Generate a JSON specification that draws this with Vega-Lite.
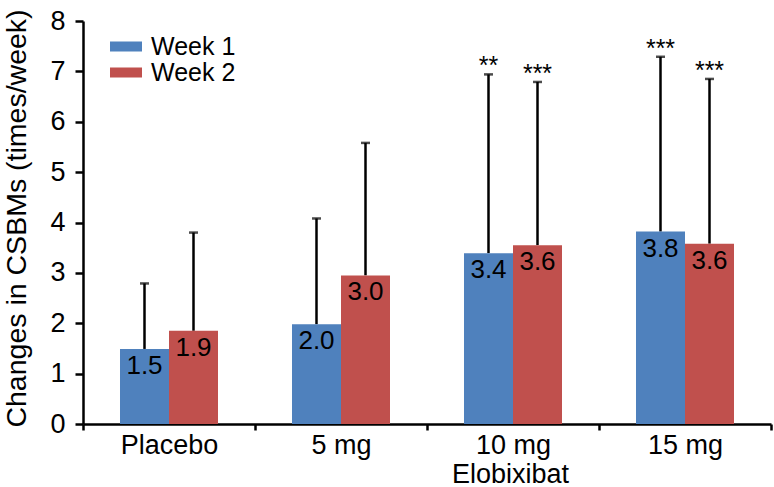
{
  "$schema": "https://vega.github.io/schema/vega-lite/v6.json",
  "width": 688,
  "height": 403,
  "autosize": "none",
  "padding": {"left": 83, "top": 21, "right": 3, "bottom": 63},
  "config": {
    "view": {"stroke": null},
    "font": "Liberation Sans",
    "axisY": {
      "domainColor": "black", "domainWidth": 2.5, "tickColor": "black", "tickWidth": 2.5, "tickSize": 8,
      "labelFontSize": 27, "labelColor": "black", "labelPadding": 10, "grid": false,
      "values": [0, 1, 2, 3, 4, 5, 6, 7, 8],
      "titleFontSize": 28.5, "titleFontWeight": "normal", "titleColor": "black",
      "titleX": -67, "titleY": 197, "titleBaseline": "middle", "titleAlign": "center", "titleAngle": -90
    },
    "axisX": {
      "domainColor": "black", "domainWidth": 2.5, "tickColor": "black", "tickWidth": 2.5, "tickSize": 6,
      "tickBand": "extent", "labelAngle": 0, "labelFontSize": 27, "labelColor": "black", "labelPadding": 2,
      "titleFontSize": 27, "titleFontWeight": "normal", "titleColor": "black",
      "titleX": 427, "titleY": 58, "titleBaseline": "alphabetic", "titleAlign": "center"
    },
    "legend": {
      "labelFontSize": 25, "labelColor": "black", "symbolType": "M-1,-0.3125H1V0.3125H-1Z",
      "symbolSize": 1024, "symbolStrokeWidth": 0, "rowPadding": 0, "clipHeight": 23, "labelOffset": 9
    }
  },
  "data": {
    "values": [
      {"dose": "Placebo", "week": "Week 1", "value": 1.49, "upper": 2.79, "label": "1.5", "sig": ""},
      {"dose": "Placebo", "week": "Week 2", "value": 1.85, "upper": 3.8, "label": "1.9", "sig": ""},
      {"dose": "5 mg", "week": "Week 1", "value": 1.98, "upper": 4.08, "label": "2.0", "sig": ""},
      {"dose": "5 mg", "week": "Week 2", "value": 2.95, "upper": 5.58, "label": "3.0", "sig": ""},
      {"dose": "10 mg", "week": "Week 1", "value": 3.39, "upper": 6.94, "label": "3.4", "sig": "**"},
      {"dose": "10 mg", "week": "Week 2", "value": 3.55, "upper": 6.79, "label": "3.6", "sig": "***"},
      {"dose": "15 mg", "week": "Week 1", "value": 3.82, "upper": 7.29, "label": "3.8", "sig": "***"},
      {"dose": "15 mg", "week": "Week 2", "value": 3.58, "upper": 6.85, "label": "3.6", "sig": "***"}
    ]
  },
  "encoding": {
    "x": {
      "field": "dose", "type": "nominal", "sort": ["Placebo", "5 mg", "10 mg", "15 mg"],
      "scale": {"paddingInner": 0, "paddingOuter": 0},
      "title": "Elobixibat"
    },
    "xOffset": {"field": "week", "type": "nominal", "scale": {"paddingInner": 0, "paddingOuter": 0.755}}
  },
  "layer": [
    {
      "mark": {"type": "rule", "strokeWidth": 2.5, "color": "black"},
      "encoding": {
        "y": {"field": "value", "type": "quantitative", "title": "Changes in CSBMs (times/week)", "scale": {"domain": [0, 8]}},
        "y2": {"field": "upper"}
      }
    },
    {
      "mark": {"type": "tick", "thickness": 2.5, "size": 9, "color": "black"},
      "encoding": {
        "y": {"field": "upper", "type": "quantitative", "title": "Changes in CSBMs (times/week)"}
      }
    },
    {
      "mark": {"type": "bar"},
      "encoding": {
        "y": {"field": "value", "type": "quantitative", "title": "Changes in CSBMs (times/week)"},
        "color": {
          "field": "week", "type": "nominal",
          "scale": {"domain": ["Week 1", "Week 2"], "range": ["#4F81BD", "#C0504D"]},
          "legend": {"orient": "none", "legendX": 27, "legendY": 14, "title": null}
        }
      }
    },
    {
      "mark": {"type": "text", "baseline": "top", "dy": 4, "fontSize": 26, "color": "black"},
      "encoding": {
        "y": {"field": "value", "type": "quantitative", "title": "Changes in CSBMs (times/week)"},
        "text": {"field": "label"}
      }
    },
    {
      "mark": {"type": "text", "baseline": "alphabetic", "dy": 0, "fontSize": 25, "color": "black"},
      "encoding": {
        "y": {"field": "upper", "type": "quantitative", "title": "Changes in CSBMs (times/week)"},
        "text": {"field": "sig"}
      }
    }
  ]
}
